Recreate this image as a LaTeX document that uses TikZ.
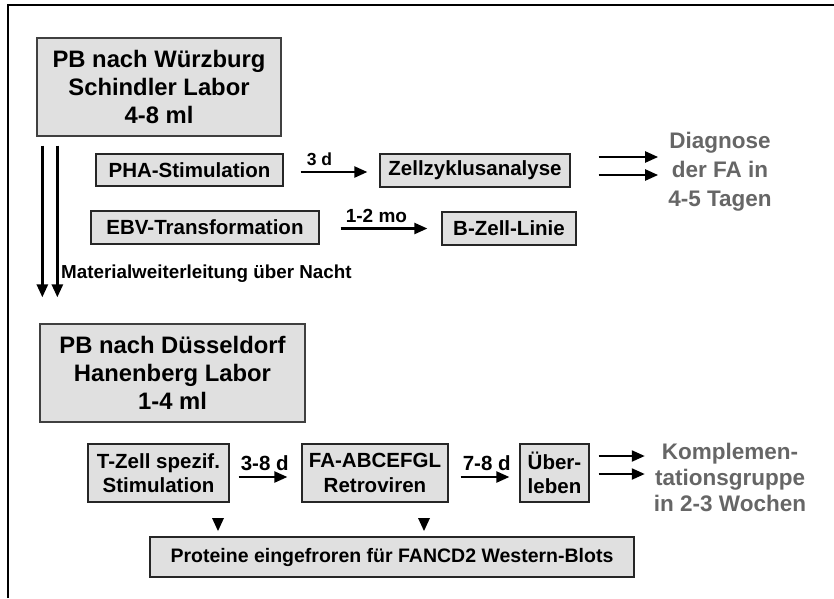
\documentclass[tikz,border=0pt]{standalone}
\usepackage{fontspec}
\setmainfont{Liberation Sans}
\usetikzlibrary{arrows.meta, positioning, calc}

\tikzset{
  labbox/.style={draw=black!75, fill=black!12, line width=1.3pt, align=center,
    minimum height=98pt, font=\fontsize{23.8}{28}\selectfont\bfseries},
  stepbox/.style={draw=black!85, fill=black!12, line width=1.3pt, align=center,
    inner sep=0pt, font=\fontsize{20.5}{24.5}\selectfont\bfseries},
  arr/.style={-{Triangle[length=13pt,width=11pt]}, line width=2.3pt},
  dlabel/.style={anchor=south west, inner sep=1pt, font=\fontsize{17.5}{20}\selectfont\bfseries},
  result/.style={text=black!60, align=center, inner sep=3pt,
    font=\fontsize{22.5}{29}\selectfont\bfseries},
}

\begin{document}
\begin{tikzpicture}[x=1pt, y=-1pt]
    \useasboundingbox (0,0) rectangle (834,598);
    \draw[line width=1.3pt] (8,598) -- (8,5) -- (834,5);

    % Wuerzburg
    \node[labbox, minimum width=244pt] (wue) at (159,87) {PB nach Würzburg\\Schindler Labor\\4-8 ml};
    \node[stepbox, minimum width=187pt, minimum height=32pt] (pha) at (189.5,170) {PHA-Stimulation};
    \node[stepbox, minimum width=190pt, minimum height=33pt] (zell) at (475,170.5) {Zellzyklusanalyse};
    \node[stepbox, minimum width=228pt, minimum height=33pt] (ebv) at (205,227.5) {EBV-Transformation};
    \node[stepbox, minimum width=134pt, minimum height=33pt] (bzell) at (509,228.5) {B-Zell-Linie};
    \node[result] (diag) at (720,172) {Diagnose\\der FA in\\4-5 Tagen};

    \draw[arr, shorten >=12pt] ([xshift=17pt,yshift=-2pt]pha.east) -- ([yshift=-2pt]pha.east -| zell.west)
        node[dlabel, pos=0, xshift=4pt, yshift=4pt] {3 d};
    \draw[arr, shorten >=14pt] ([xshift=21pt,yshift=-1pt]ebv.east) -- ([yshift=-1pt]ebv.east -| bzell.west)
        node[dlabel, pos=0, xshift=3pt, yshift=4pt, font=\fontsize{19}{22}\selectfont\bfseries] {1-2 mo};
    \draw[arr, shorten >=7pt] ([xshift=28pt,yshift=13.5pt]zell.east) -- ([yshift=13.5pt]zell.east -| diag.west);
    \draw[arr, shorten >=7pt] ([xshift=28pt,yshift=-4.5pt]zell.east) -- ([yshift=-4.5pt]zell.east -| diag.west);

    % Duesseldorf
    \node[labbox, minimum width=265pt] (dus) at (172.5,373) {PB nach Düsseldorf\\Hanenberg Labor\\1-4 ml};
    \draw[arr, line width=2.7pt, shorten >=26pt] ([xshift=6pt,yshift=-9pt]wue.south west) -- ([xshift=6pt]wue.south west |- dus.north);
    \draw[arr, line width=2.7pt, shorten >=26pt] ([xshift=21pt,yshift=-9pt]wue.south west) -- ([xshift=21pt]wue.south west |- dus.north);
    \node[anchor=west, inner sep=0pt, font=\fontsize{18.8}{22}\selectfont\bfseries] (mat) at (61,274) {Materialweiterleitung über Nacht};

    \node[stepbox, minimum width=141pt, minimum height=58pt] (tzell) at (158.5,473) {T-Zell spezif.\\Stimulation};
    \node[stepbox, minimum width=146pt, minimum height=58pt] (fa) at (375,473) {FA-ABCEFGL\\Retroviren};
    \node[stepbox, minimum width=69pt, minimum height=58pt] (ueber) at (554.5,473) {Über-\\leben};
    \node[result, font=\fontsize{22.5}{26}\selectfont\bfseries] (kompl) at (730,477) {Komplemen-\\tationsgruppe\\in 2-3 Wochen};
    \node[stepbox, minimum width=484pt, minimum height=40pt, font=\fontsize{19.5}{23}\selectfont\bfseries] (prot) at (392,557) {Proteine eingefroren für FANCD2 Western-Blots};

    \draw[arr, shorten >=14pt] ([xshift=9pt,yshift=-4pt]tzell.east) -- ([yshift=-4pt]tzell.east -| fa.west)
        node[dlabel, pos=0, yshift=4pt, font=\fontsize{20.5}{24}\selectfont\bfseries] {3-8 d};
    \draw[arr, shorten >=10pt] ([xshift=12pt,yshift=-4pt]fa.east) -- ([yshift=-4pt]fa.east -| ueber.west)
        node[dlabel, pos=0, yshift=4pt, font=\fontsize{20.5}{24}\selectfont\bfseries] {7-8 d};
    \draw[arr, shorten >=6pt] ([xshift=9pt,yshift=17pt]ueber.east) -- ([yshift=17pt]ueber.east -| kompl.west);
    \draw[arr, shorten >=6pt] ([xshift=9pt,yshift=-1pt]ueber.east) -- ([yshift=-1pt]ueber.east -| kompl.west);

    \foreach \x in {218,424}
        \fill (\x-6,518) -- (\x+6,518) -- (\x,531) -- cycle;
\end{tikzpicture}
\end{document}
